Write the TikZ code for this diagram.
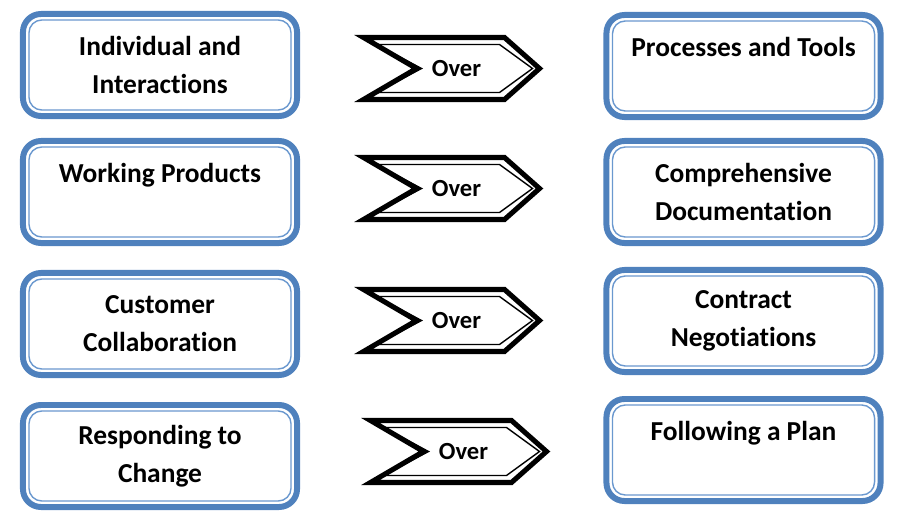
\documentclass[tikz,border=0pt]{standalone}
\usepackage{fontspec}
\setmainfont{Carlito}[Ligatures=NoCommon]
\definecolor{boxblue}{HTML}{4F81BD}
\definecolor{lineblue}{HTML}{6A98CF}
\tikzset{
  valuebox/.style={draw=boxblue, line width=4.25pt, rounded corners=0.45cm, fill=white,
    minimum width=6.85cm, minimum height=2.55cm, inner sep=0pt, outer sep=0pt,
    align=center, font=\bfseries\fontsize{19.5}{27}\selectfont},
  valueline/.style={draw=lineblue, line width=1pt, rounded corners=0.32cm},
  overtext/.style={font=\bfseries\fontsize{17.5}{20}\selectfont, inner sep=0pt},
  chevout/.style={line width=3.6pt, line join=miter},
  chevin/.style={line width=1pt, line join=miter}
}
\begin{document}
\begin{tikzpicture}[x=0.025cm, y=-0.025cm, line join=round, line cap=round]
			\useasboundingbox (0,0) rectangle (900,525);
			\foreach \n/\x/\y/\txt in {
				L1/160/65/{Individual and\\Interactions},
				L2/160/192/{Working Products\\\mbox{}},
				L3/160/324/{Customer\\Collaboration},
				L4/160/456/{Responding to\\Change},
				R1/743.5/66/{Processes and Tools\\\mbox{}},
				R2/743.5/192/{Comprehensive\\Documentation},
				R3/743.5/321/{Contract\\Negotiations},
				R4/743.5/450/{Following a Plan\\\mbox{}}}{
				\node[valuebox] (\n) at (\x,\y) {\txt};
				\draw[valueline] ([shift={(6,6)}]\n.north west) rectangle ([shift={(-6,-6)}]\n.south east);
			}
			\foreach \n/\x/\y in {O1/456.5/68.5, O2/456.5/188.5, O3/456.5/320.5, O4/463.5/451.5}{
				\node[overtext] (\n) at (\x,\y) {Over};
				\draw[chevout, shift={(\n.center)}] (-93,-31) -- (48,-31) -- (83,0) -- (48,31) -- (-93,31) -- (-40,0) -- cycle;
				\draw[chevin, shift={(\n.center)}] (-80,-24) -- (43,-24) -- (76,0) -- (43,24) -- (-80,24) -- (-35,0) -- cycle;
			}
			%\draw[help lines] (0,0) grid[step=50] (900,525);
		\end{tikzpicture}
\end{document}
